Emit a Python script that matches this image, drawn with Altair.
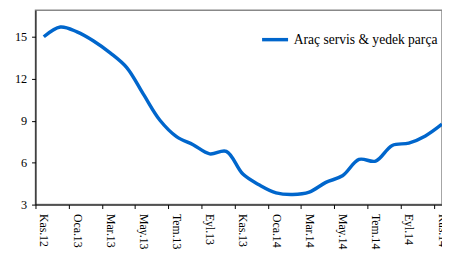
import altair as alt
import pandas as pd

months = ["Kas.12", "Ara.12", "Oca.13", "Şub.13", "Mar.13", "Nis.13", "May.13",
          "Haz.13", "Tem.13", "Ağu.13", "Eyl.13", "Eki.13", "Kas.13", "Ara.13",
          "Oca.14", "Şub.14", "Mar.14", "Nis.14", "May.14", "Haz.14", "Tem.14",
          "Ağu.14", "Eyl.14", "Eki.14", "Kas.14"]
values = [15.0, 15.7, 15.35, 14.7, 13.85, 12.8, 10.9, 9.03, 7.86, 7.28, 6.63,
          6.81, 5.18, 4.4, 3.84, 3.72, 3.89, 4.59, 5.06, 6.23, 6.11, 7.23, 7.4,
          7.91, 8.75]
series = "Araç servis & yedek parça"
y_ticks = [3, 6, 9, 12, 15]

df = pd.DataFrame({
    "idx": list(range(len(months))),
    "month": months,
    "value": values,
    "series": [series] * len(months),
})
tick_idx = list(range(0, len(months), 2))
label_map = "{" + ",".join(f'"{i}":"{months[i]}"' for i in tick_idx) + "}"

FONT = "Liberation Serif"
W = 414
X_DOMAIN = [-0.5, 24.0]
half_step = W / (X_DOMAIN[1] - X_DOMAIN[0]) / 2

chart = alt.Chart(df).mark_line(
    interpolate="catmull-rom", strokeWidth=3.5
).encode(
    x=alt.X("idx:Q",
            scale=alt.Scale(domain=X_DOMAIN, nice=False, zero=False),
            axis=alt.Axis(values=tick_idx, title=None, grid=False,
                          labelExpr=f"{label_map}[''+datum.value]",
                          tickOffset=-half_step, labelOffset=half_step,
                          labelAngle=90, labelFont=FONT, labelFontSize=12,
                          labelColor="#000", labelPadding=5, tickSize=4,
                          tickColor="#000", domainColor="#000",
                          labelAlign="left", labelBaseline="middle",
                          labelOverlap=False, labelFlush=False, labelBound=False)),
    y=alt.Y("value:Q",
            scale=alt.Scale(domain=[3, 16.9], nice=False, zero=False),
            axis=alt.Axis(values=y_ticks, title=None, grid=False,
                          labelFont=FONT, labelFontSize=12.5, labelColor="#000",
                          tickSize=4, tickColor="#000", domainColor="#000",
                          labelPadding=5)),
    color=alt.Color("series:N",
                    scale=alt.Scale(range=["#0066cc"]),
                    legend=alt.Legend(title=None, orient="none", legendX=229,
                                      legendY=15, symbolType="stroke",
                                      symbolStrokeWidth=3.5, symbolSize=700,
                                      labelFont=FONT, labelFontSize=13.8,
                                      labelColor="#000", labelLimit=300)),
).properties(
    width=W, height=198,
    autosize=alt.AutoSizeParams(type="none"),
    padding={"left": 28, "top": 0, "right": 0, "bottom": 44},
).configure_view(
    stroke="#888", strokeWidth=1.5
)

chart.save("out.html", embed_options={"renderer": "svg", "actions": False})
